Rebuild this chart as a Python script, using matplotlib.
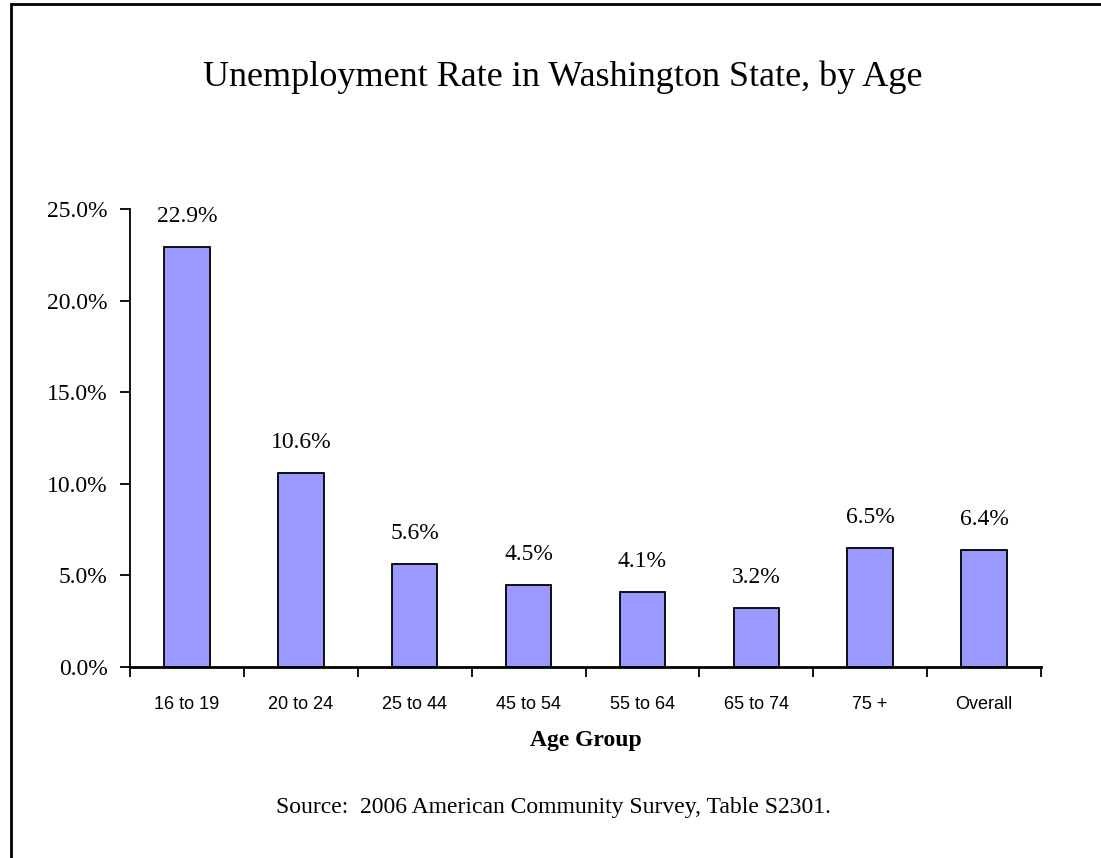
import matplotlib
matplotlib.use("Agg")
import matplotlib.pyplot as plt
from matplotlib.patches import Rectangle
from matplotlib.ticker import FixedLocator, FuncFormatter

# ── DATA ─────────────────────────────────────────────────────────────
age_groups = ["16 to 19", "20 to 24", "25 to 44", "45 to 54",
              "55 to 64", "65 to 74", "75 +", "Overall"]
unemp_rate = [22.9, 10.6, 5.6, 4.5, 4.1, 3.2, 6.5, 6.4]
y_ticks    = [0, 5, 10, 15, 20, 25]

SERIF  = ["Liberation Serif", "DejaVu Serif"]
NARROW = ["Liberation Sans Narrow", "Liberation Sans", "DejaVu Sans"]
BAR_COLOR = "#9999FF"

fig = plt.figure(figsize=(11.01, 8.58), dpi=100)
ax = fig.add_axes([130 / 1101, 1 - 667 / 858, (1041 - 130) / 1101, (667 - 209) / 858])

x = list(range(len(age_groups)))
ax.bar(x, unemp_rate, width=0.4, color=BAR_COLOR, edgecolor="black", linewidth=1.3, zorder=2)

for xi, v in zip(x, unemp_rate):
    ax.annotate(f"{v:.1f}%", (xi, v), xytext=(0, 18), textcoords="offset points",
                ha="center", va="baseline", fontsize=17, family=SERIF)

ax.set_xlim(-0.5, len(age_groups) - 0.5)
ax.set_ylim(0, 25)

# y axis
ax.set_yticks(y_ticks)
ax.yaxis.set_major_formatter(FuncFormatter(lambda v, _: f"{v:.1f}%"))
ax.tick_params(axis="y", direction="out", length=7, width=1.3, pad=9, labelsize=17)
for lbl in ax.get_yticklabels():
    lbl.set_family(SERIF)

# x axis: labels centred, tick marks on category boundaries
ax.set_xticks(x)
ax.set_xticklabels(age_groups, family=NARROW, fontsize=13)
ax.tick_params(axis="x", which="major", length=0, pad=21)
ax.xaxis.set_minor_locator(FixedLocator([i - 0.5 for i in range(len(age_groups) + 1)]))
ax.tick_params(axis="x", which="minor", direction="out", length=7, width=1.3)

for s in ["top", "right"]:
    ax.spines[s].set_visible(False)
ax.spines["left"].set_linewidth(1.3)
ax.spines["bottom"].set_linewidth(2)

ax.set_xlabel("Age Group", family=SERIF, fontsize=17, fontweight="bold", labelpad=12)

fig.text(563 / 1101, 1 - 77 / 858, "Unemployment Rate in Washington State, by Age",
         ha="center", va="center", fontsize=26, family=SERIF)
fig.text(553 / 1101, 1 - 808 / 858, "Source:  2006 American Community Survey, Table S2301.",
         ha="center", va="center", fontsize=17, family=SERIF)

# chart frame (cropped: only left and top edges visible)
fig.patches.append(Rectangle((11 / 1101, -0.1), 1.2, 1.1 - 4 / 858, transform=fig.transFigure,
                             fill=False, edgecolor="black", linewidth=2))

fig.savefig("out.png", dpi=100)
